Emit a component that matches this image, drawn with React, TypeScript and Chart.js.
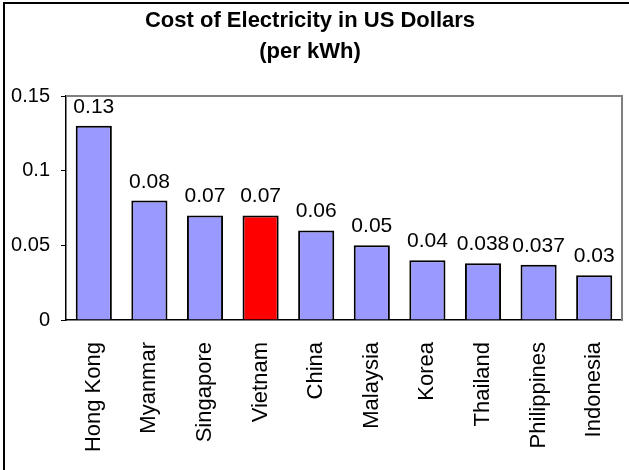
import React, { useEffect, useRef } from "react";
import { Chart, registerables } from "chart.js";

Chart.register(...registerables);

const categories = ["Hong Kong", "Myanmar", "Singapore", "Vietnam", "China", "Malaysia", "Korea", "Thailand", "Philippines", "Indonesia"];
const values = [0.13, 0.08, 0.07, 0.07, 0.06, 0.05, 0.04, 0.038, 0.037, 0.03];
const valueLabels = ["0.13", "0.08", "0.07", "0.07", "0.06", "0.05", "0.04", "0.038", "0.037", "0.03"];
const highlight = "Vietnam";
const titleLines = ["Cost of Electricity in US Dollars", "(per kWh)"];
const yTicks = [0, 0.05, 0.1, 0.15];

const FONT = "Arial, 'Liberation Sans', sans-serif";

const decorPlugin = {
  id: "decor",
  beforeDraw(chart: any) {
    const ctx = chart.ctx;
    ctx.save();
    ctx.fillStyle = "#fff";
    ctx.fillRect(0, 0, chart.width, chart.height);
    ctx.restore();
  },
  afterDraw(chart: any) {
    const ctx = chart.ctx;
    const a = chart.chartArea;
    ctx.save();
    // outer frame (top + left)
    ctx.strokeStyle = "#000";
    ctx.lineWidth = 2;
    ctx.beginPath();
    ctx.moveTo(4, chart.height);
    ctx.lineTo(4, 3);
    ctx.lineTo(chart.width, 3);
    ctx.stroke();
    // plot area top/right border
    ctx.strokeStyle = "#808080";
    ctx.lineWidth = 2;
    ctx.beginPath();
    ctx.moveTo(a.left, a.top);
    ctx.lineTo(a.right, a.top);
    ctx.lineTo(a.right, a.bottom);
    ctx.stroke();
    // title
    ctx.fillStyle = "#000";
    ctx.font = "bold 22px " + FONT;
    ctx.textAlign = "center";
    ctx.textBaseline = "middle";
    const cx = 310;
    ctx.fillText(titleLines[0], cx, 21);
    ctx.fillText(titleLines[1], cx, 52);
    ctx.restore();
  },
  afterDatasetsDraw(chart: any) {
    const ctx = chart.ctx;
    const meta = chart.getDatasetMeta(0);
    ctx.save();
    ctx.fillStyle = "#000";
    ctx.font = "21px " + FONT;
    ctx.textAlign = "center";
    ctx.textBaseline = "alphabetic";
    meta.data.forEach((bar: any, i: number) => {
      ctx.fillText(valueLabels[i], bar.x, bar.y - 13);
    });
    ctx.restore();
  },
};

export default function App() {
  const ref = useRef<HTMLCanvasElement | null>(null);
  useEffect(() => {
    document.body.style.margin = "0";
    if (!ref.current) return;
    const chart = new Chart(ref.current, {
      type: "bar",
      data: {
        labels: categories,
        datasets: [
          {
            data: values,
            backgroundColor: categories.map((c) => (c === highlight ? "#FF0000" : "#9999FF")),
            borderColor: "#000",
            borderWidth: 2,
            barPercentage: 0.65,
            categoryPercentage: 1,
          },
        ],
      },
      options: {
        animation: false,
        responsive: false,
        maintainAspectRatio: false,
        layout: { padding: { left: 0, right: 7, top: 96, bottom: 0 } },
        plugins: { legend: { display: false }, title: { display: false }, tooltip: { enabled: false } },
        scales: {
          x: {
            grid: { display: false, drawTicks: false },
            border: { color: "#000", width: 1.5 },
            ticks: {
              color: "#000",
              font: { family: FONT, size: 22 },
              minRotation: 90,
              maxRotation: 90,
              padding: 22,
              autoSkip: false,
            },
            afterFit(scale: any) {
              scale.height = 150;
              scale.paddingLeft = 0;
              scale.paddingRight = 0;
            },
          },
          y: {
            min: 0,
            max: 0.15,
            afterBuildTicks(scale: any) {
              scale.ticks = yTicks.map((v) => ({ value: v }));
            },
            grid: { drawOnChartArea: false, drawTicks: true, tickLength: 5, color: "#000" },
            border: { color: "#000", width: 1.5 },
            ticks: {
              color: "#000",
              font: { family: FONT, size: 20 },
              padding: 11,
              callback: (v: any) => String(v),
            },
            afterFit(scale: any) {
              scale.width = 66;
              scale.paddingTop = 0;
              scale.paddingBottom = 0;
            },
          },
        },
      },
      plugins: [decorPlugin],
    });
    return () => chart.destroy();
  }, []);
  return <canvas ref={ref} width={629} height={470} style={{ display: "block" }} />;
}
